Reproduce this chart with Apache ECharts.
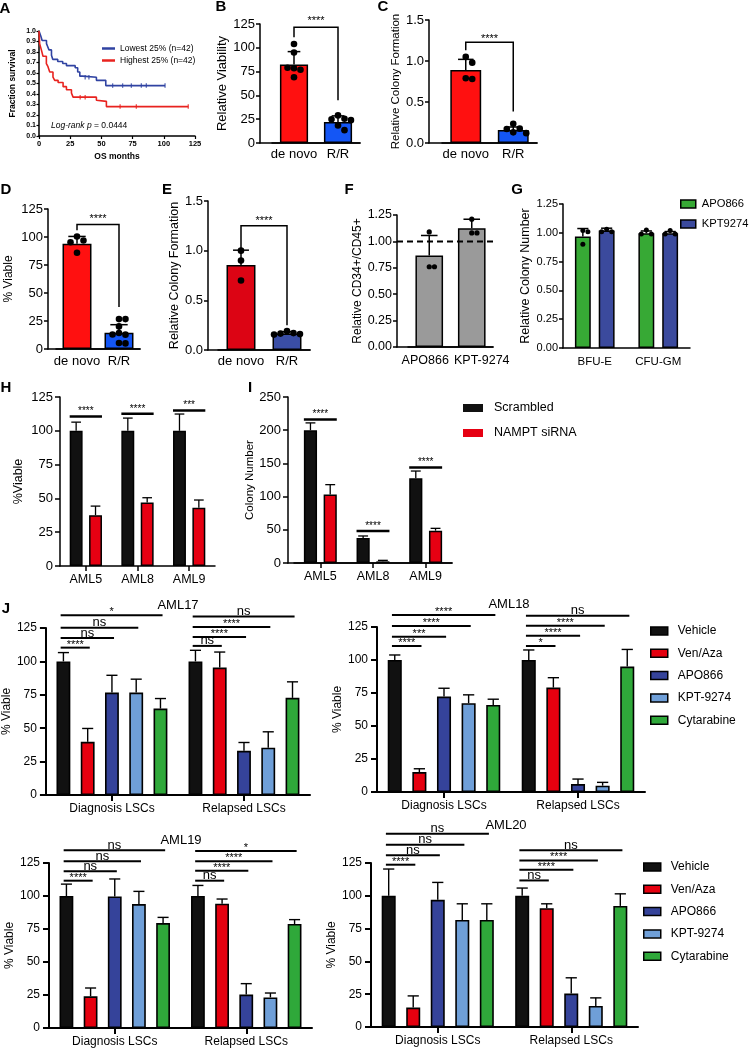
<!DOCTYPE html>
<html><head><meta charset="utf-8">
<script src="https://cdn.jsdelivr.net/npm/echarts@6/dist/echarts.min.js"></script>
<style>html,body{margin:0;padding:0;background:#fff}#c{width:749px;height:1050px}</style>
</head><body><div id="c"></div>
<script>
// ================= DATA =================
// A: Kaplan-Meier
const kmLowTime = [0, 1.5, 2.5, 6, 7, 8, 10, 11, 15, 19, 22, 29, 31, 32.7, 35, 46, 53.5, 101];
const kmLowSurv = [1, 0.95, 0.91, 0.88, 0.85, 0.82, 0.77, 0.73, 0.71, 0.69, 0.67, 0.65, 0.61, 0.57, 0.56, 0.53, 0.48, 0.48];
const kmHighTime = [0, 0.5, 1.9, 3.2, 5.9, 7.2, 8.6, 11.2, 12.6, 15.3, 19.3, 22, 26, 27.3, 46, 47.4, 54, 119.6];
const kmHighSurv = [1, 0.88, 0.82, 0.76, 0.69, 0.66, 0.61, 0.56, 0.53, 0.51, 0.47, 0.44, 0.41, 0.37, 0.34, 0.33, 0.28, 0.28];
const kmLowCensorT = [37, 40, 59, 67, 74, 82, 86, 101];
const kmLowCensorS = [0.56, 0.56, 0.48, 0.48, 0.48, 0.48, 0.48, 0.48];
const kmHighCensorT = [33, 37, 65, 78, 119.6];
const kmHighCensorS = [0.37, 0.37, 0.28, 0.28, 0.28];
const kmNames = ['Lowest 25% (n=42)', 'Highest 25% (n=42)'];

// B
const groupCats = ['de novo', 'R/R'];
const bMean = [82.5, 22];
const bSD = [13.5, 6.5];
const bDotsDeNovo = [104, 95, 78.5, 77, 79, 69];
const bDotsRR = [29, 25.5, 25, 24, 18.5, 13.5];
const bSigY = [121.5, 111, 45];
// C
const cMean = [0.89, 0.16];
const cSD = [0.13, 0.035];
const cDotsDeNovo = [1.05, 0.98, 0.79, 0.78];
const cDotsRR = [0.235, 0.175, 0.17, 0.13, 0.12];
const cSigY = [1.23, 1.13, 0.385];
// D
const dMean = [94, 14.5];
const dSD = [6.5, 7.2];
const dDotsDeNovo = [100.4, 96.9, 95.3, 86];
const dDotsRR = [26.7, 26.7, 20.2, 14.3, 12.8, 13, 5.3, 5];
const dSigY = [111.2, 106, 37.6];
// E
const eMean = [0.855, 0.165];
const eSD = [0.15, 0.02];
const eDotsDeNovo = [1.0, 0.9, 0.70];
const eDotsRR = [0.19, 0.17, 0.165, 0.16, 0.155];
const eSigY = [1.25, 0.97, 0.25];
const sigStars = '****';
// F
const fCats = ['APO866', 'KPT-9274'];
const fMean = [0.866, 1.125];
const fSD = [0.19, 0.085];
const fDotsApo = [1.09, 0.76, 0.76];
const fDotsKpt = [1.21, 1.08, 1.08];
const fRef = 1.0;
// G
const gCats = ['BFU-E', 'CFU-GM'];
const gSeries = ['APO866', 'KPT9274'];
const gApoMean = [0.967, 0.996];
const gApoSD = [0.07, 0.02];
const gKptMean = [1.02, 0.996];
const gKptSD = [0.02, 0.015];
const gApoDots = [[1.02, 1.01, 0.90], [1.025, 0.99, 0.99]];
const gKptDots = [[1.03, 1.01, 1.01], [1.02, 0.99, 0.99]];
// H & I
const amlCats = ['AML5', 'AML8', 'AML9'];
const siNames = ['Scrambled', 'NAMPT siRNA'];
const hScr = [100, 100, 100];
const hScrSD = [6.4, 9.4, 12.4];
const hSi = [37.6, 47, 43];
const hSiSD = [6.7, 3.5, 5.8];
const hSig = ['****', '****', '***'];
const hSigY = [110.6, 112.6, 115];
const iScr = [200, 37.6, 127.5];
const iScrSD = [11, 3.1, 11];
const iSi = [103, 2.5, 48.7];
const iSiSD = [15, 1.5, 3.5];
const iSig = ['****', '****', '****'];
const iSigY = [216, 48.2, 144];
// J
const jCats = ['Diagnosis LSCs', 'Relapsed LSCs'];
const jTreat = ['Vehicle', 'Ven/Aza', 'APO866', 'KPT-9274', 'Cytarabine'];
const jTitles = ['AML17', 'AML18', 'AML19', 'AML20'];
const aml17Mean = [[100, 39.8, 76.7, 76.7, 64.7], [100, 95.4, 33.1, 35.4, 72.7]];
const aml17Err = [[6.6, 10, 12.9, 10, 7.5], [8.3, 11.6, 6.2, 11.9, 12]];
const aml17Sig = [['****', 'ns', 'ns', '*'], ['ns', '****', '****', 'ns']];
const aml17SigY = [[110.3, 117.5, 125.2, 134.5], [111.6, 118.3, 125.7, 133.7]];
const aml18Mean = [[100, 15.1, 72.3, 67.3, 66], [100, 79.1, 6, 4.8, 95]];
const aml18Err = [[3.8, 2.5, 6.3, 6.3, 4.3], [7.6, 7.5, 3.8, 2.5, 13]];
const aml18Sig = [['****', '***', '****', '****'], ['*', '****', '****', 'ns']];
const aml18SigY = [[110.6, 117.6, 125.7, 134], [110.6, 118.4, 126, 133.5]];
const aml19Mean = [[100, 24, 99.7, 93.9, 79.5], [100, 94.2, 25.3, 23.2, 78.8]];
const aml19Err = [[9, 6.3, 13.2, 9.6, 4.3], [8, 3.5, 8.3, 3.3, 3.3]];
const aml19Sig = [['****', 'ns', 'ns', 'ns'], ['ns', '****', '****', '*']];
const aml19SigY = [[111.6, 118.7, 126.3, 134.6], [111.6, 119.2, 126.3, 134.1]];
const aml20Mean = [[100, 14.8, 96.9, 81.6, 81.6], [100, 90.6, 25.5, 16.1, 92.3]];
const aml20Err = [[20.4, 8.9, 13.3, 12.3, 12.3], [5.9, 3.3, 12, 6.1, 9.2]];
const aml20Sig = [['****', 'ns', 'ns', 'ns'], ['ns', '****', '****', 'ns']];
const aml20SigY = [[123.7, 130.9, 139, 147.2], [111.7, 119.9, 127, 134.7]];

// ================= STYLE =================
const FONT = '"Liberation Sans", Arial, Helvetica, sans-serif';
const KM_BLUE = '#3043a2', KM_RED = '#e8231f';
const RED = '#ff1010', BLUE = '#1456f5';
const E_RED = '#dc0414', E_BLUE = '#3a4ea6';
const GRAY = '#9a9a9a';
const G_GREEN = '#37a935', G_BLUE = '#3b4a9d';
const SI_COLORS = ['#111111', '#e60012'];
const J_COLORS = ['#111111', '#e5000f', '#35439a', '#6f9fd8', '#2fa83a'];

const grids = [], xAxes = [], yAxes = [], series = [], legends = [], graphics = [];

function txt(x, y, text, font, align, valign) {
  graphics.push({type: 'text', x: x, y: y, silent: true,
    style: {text: text, font: font, fill: '#000', textAlign: align || 'center', textVerticalAlign: valign || 'middle',
      align: align || 'center', verticalAlign: valign || 'middle'}});
}
function barOffset(band, n, i, bwFrac, gapFrac) {
  const bw = band * bwFrac, gap = bw * gapFrac;
  const total = n * bw + (n - 1) * gap;
  return -total / 2 + bw / 2 + i * (bw + gap);
}
function swarm(ys, d) {
  const out = [];
  ys.forEach(function (y, i) {
    const cands = [0];
    for (let k = 1; k <= 6; k++) { cands.push(k * d * 0.9, -k * d * 0.9); }
    for (const dx of cands) {
      if (out.every(function (o, j) { return Math.hypot(o - dx, ys[j] - y) >= d * 0.9; })) { out.push(dx); return; }
    }
    out.push(0);
  });
  return out;
}
function textEl(x, y, text, fs) {
  return {type: 'text', x: x, y: y, style: {text: text, fill: '#000', font: fs + 'px ' + FONT,
    textAlign: 'center', textVerticalAlign: 'middle', align: 'center', verticalAlign: 'middle'}};
}

function panel(o) {
  const lw = o.lw || 1.5;
  const line = {show: true, lineStyle: {color: '#000', width: lw}};
  const gi = grids.push({left: o.left, top: o.top, width: o.right - o.left, height: o.bottom - o.top}) - 1;
  const xi = xAxes.push({gridIndex: gi, type: 'category', data: o.cats, axisLine: line,
    axisTick: {show: !!o.xTicks, alignWithLabel: true, length: o.tickLen || 5, lineStyle: {color: '#000', width: lw}},
    axisLabel: Object.assign({color: '#000', fontSize: o.xFs, fontFamily: FONT, margin: o.xMargin, interval: 0}, o.xLabel || {}),
    splitLine: {show: false}}) - 1;
  const yi = yAxes.push({gridIndex: gi, type: 'value', min: o.ymin, max: o.ymax, interval: o.yint,
    offset: o.left - o.axisX, axisLine: line,
    axisTick: {show: true, length: o.tickLen || 4, lineStyle: {color: '#000', width: lw}},
    axisLabel: {color: '#000', fontSize: o.tickFs, fontFamily: FONT, margin: o.yMargin || 5,
      formatter: o.dec ? function (v) { return v.toFixed(o.dec); } : null},
    splitLine: {show: false}, name: o.yName, nameLocation: 'middle', nameGap: o.yNameGap,
    nameTextStyle: {fontSize: o.yNameSize, fontFamily: FONT, color: '#000'}}) - 1;
  if (o.left > o.axisX) {
    const fg = grids.push({left: o.axisX, top: o.top, width: o.right - o.axisX, height: o.bottom - o.top}) - 1;
    xAxes.push({gridIndex: fg, type: 'value', min: 0, max: 1, axisLine: line, axisTick: {show: false},
      axisLabel: {show: false}, splitLine: {show: false}});
    yAxes.push({gridIndex: fg, type: 'value', min: 0, max: 1, show: false});
  }
  return {gi: gi, xi: xi, yi: yi, off: o.left - o.axisX};
}
function bars(ax, name, vals, colors, bwFrac, gapFrac, bw) {
  series.push({type: 'bar', name: name, xAxisIndex: ax.xi, yAxisIndex: ax.yi,
    data: vals.map(function (v, i) { return {value: v, itemStyle: {color: Array.isArray(colors) ? colors[i] : colors}}; }),
    barWidth: (bwFrac * 100) + '%', barGap: (gapFrac * 100) + '%',
    itemStyle: {color: Array.isArray(colors) ? colors[0] : colors, borderColor: '#000', borderWidth: bw == null ? 1.5 : bw},
    z: 2, silent: true});
}
function errs(ax, means, sds, n, idx, bwFrac, gapFrac, capFrac, lw) {
  series.push({type: 'custom', xAxisIndex: ax.xi, yAxisIndex: ax.yi, z: 3, silent: true, clip: false,
    data: means.map(function (m, i) { return [i, m, sds[i]]; }),
    renderItem: function (p, api) {
      const c = api.value(0), m = api.value(1), e = api.value(2);
      const band = api.size([1, 0])[0];
      const x = api.coord([c, m])[0] + barOffset(band, n, idx, bwFrac, gapFrac);
      const y0 = api.coord([c, m])[1], y1 = api.coord([c, m + e])[1];
      const h = band * bwFrac * capFrac / 2;
      return {type: 'group', children: [
        {type: 'line', shape: {x1: x, y1: y0, x2: x, y2: y1}, style: {stroke: '#000', lineWidth: lw}},
        {type: 'line', shape: {x1: x - h, y1: y1, x2: x + h, y2: y1}, style: {stroke: '#000', lineWidth: lw}}]};
    }});
}
function dots(ax, cat, vals, n, idx, bwFrac, gapFrac, r) {
  series.push({type: 'custom', xAxisIndex: ax.xi, yAxisIndex: ax.yi, z: 4, silent: true, clip: false,
    data: vals.map(function (v) { return [cat, v]; }),
    renderItem: function (p, api) {
      const band = api.size([1, 0])[0];
      const cx0 = api.coord([cat, vals[0]])[0] + barOffset(band, n, idx, bwFrac, gapFrac);
      const ys = vals.map(function (v) { return api.coord([cat, v])[1]; });
      const xs = swarm(ys, 2 * r + 0.6);
      const i = p.dataIndex;
      return {type: 'circle', shape: {cx: cx0 + xs[i], cy: ys[i], r: r}, style: {fill: '#000'}};
    }});
}
function bracket(ax, label, ys, starsOff, fs) {
  series.push({type: 'custom', xAxisIndex: ax.xi, yAxisIndex: ax.yi, z: 5, silent: true, clip: false,
    data: [[0, 1, ys[0], ys[1], ys[2]]],
    renderItem: function (p, api) {
      const a = api.coord([api.value(0), api.value(2)]), b = api.coord([api.value(1), api.value(2)]);
      const l1 = api.coord([api.value(0), api.value(3)])[1], l2 = api.coord([api.value(1), api.value(4)])[1];
      return {type: 'group', children: [
        {type: 'polyline', shape: {points: [[a[0], l1], [a[0], a[1]], [b[0], b[1]], [b[0], l2]]},
          style: {stroke: '#000', lineWidth: 1.5, fill: null}},
        textEl((a[0] + b[0]) / 2, a[1] - starsOff, label, fs)]};
    }});
}
function groupSig(ax, labels, ys, n, bwFrac, gapFrac, lw, starsOff, fs) {
  series.push({type: 'custom', xAxisIndex: ax.xi, yAxisIndex: ax.yi, z: 5, silent: true, clip: false,
    data: ys.map(function (y, i) { return [i, y]; }),
    renderItem: function (p, api) {
      const c = api.value(0), y = api.value(1);
      const band = api.size([1, 0])[0], bw = band * bwFrac;
      const pt = api.coord([c, y]);
      const x1 = pt[0] + barOffset(band, n, 0, bwFrac, gapFrac) - bw / 2;
      const x2 = pt[0] + barOffset(band, n, n - 1, bwFrac, gapFrac) + bw / 2;
      return {type: 'group', children: [
        {type: 'line', shape: {x1: x1, y1: pt[1], x2: x2, y2: pt[1]}, style: {stroke: '#000', lineWidth: lw}},
        textEl((x1 + x2) / 2, pt[1] - starsOff, labels[p.dataIndex], fs)]};
    }});
}
function jSig(ax, labels, ys, bwFrac, gapFrac) {
  const data = [], labs = [];
  ys.forEach(function (row, c) { row.forEach(function (y, k) { data.push([c, k + 1, y]); labs.push(labels[c][k]); }); });
  series.push({type: 'custom', xAxisIndex: ax.xi, yAxisIndex: ax.yi, z: 5, silent: true, clip: false, data: data,
    renderItem: function (p, api) {
      const c = api.value(0), t = api.value(1), y = api.value(2);
      const band = api.size([1, 0])[0], bw = band * bwFrac;
      const pt = api.coord([c, y]);
      const x1 = pt[0] + barOffset(band, 5, 0, bwFrac, gapFrac) - 0.2 * bw;
      const x2 = pt[0] + barOffset(band, 5, t, bwFrac, gapFrac) + 0.15 * bw;
      const lab = labs[p.dataIndex];
      const isNs = lab === 'ns';
      return {type: 'group', children: [
        {type: 'line', shape: {x1: x1, y1: pt[1], x2: x2, y2: pt[1]}, style: {stroke: '#000', lineWidth: 2}},
        textEl((x1 + x2) / 2, pt[1] - (isNs ? 5 : 3), lab, isNs ? 13 : 11)]};
    }});
}

// ================= PANEL A =================
(function () {
  const gi = grids.push({left: 39, top: 31, width: 156, height: 105}) - 1;
  const line = {show: true, lineStyle: {color: '#000', width: 1.5}};
  const xi = xAxes.push({gridIndex: gi, type: 'value', min: 0, max: 125, interval: 25, axisLine: line,
    axisTick: {show: true, length: 3, lineStyle: {color: '#000', width: 1.2}},
    axisLabel: {color: '#000', fontSize: 7.5, fontWeight: 'bold', fontFamily: FONT, margin: 4},
    splitLine: {show: false}, name: 'OS months', nameLocation: 'middle', nameGap: 16,
    nameTextStyle: {fontSize: 8.5, fontWeight: 'bold', fontFamily: FONT, color: '#000'}}) - 1;
  const yi = yAxes.push({gridIndex: gi, type: 'value', min: 0, max: 1, interval: 0.1, axisLine: line,
    axisTick: {show: true, length: 2.5, lineStyle: {color: '#000', width: 1.2}},
    axisLabel: {color: '#000', fontSize: 7, fontWeight: 'bold', fontFamily: FONT, margin: 3,
      formatter: function (v) { return v.toFixed(1); }},
    splitLine: {show: false}, name: 'Fraction survival', nameLocation: 'middle', nameGap: 22,
    nameTextStyle: {fontSize: 8.5, fontWeight: 'bold', fontFamily: FONT, color: '#000'}}) - 1;
  [[kmLowTime, kmLowSurv, kmLowCensorT, kmLowCensorS, KM_BLUE, kmNames[0]],
   [kmHighTime, kmHighSurv, kmHighCensorT, kmHighCensorS, KM_RED, kmNames[1]]].forEach(function (s) {
    series.push({type: 'line', name: s[5], xAxisIndex: xi, yAxisIndex: yi, step: 'end', showSymbol: false,
      data: s[0].map(function (t, i) { return [t, s[1][i]]; }),
      lineStyle: {color: s[4], width: 1.6}, itemStyle: {color: s[4]}, silent: true, z: 3});
    series.push({type: 'scatter', xAxisIndex: xi, yAxisIndex: yi, symbol: 'rect', symbolSize: [1.3, 4.5],
      data: s[2].map(function (t, i) { return [t, s[3][i]]; }), itemStyle: {color: s[4]}, silent: true, z: 4});
  });
  legends.push({left: 102, top: 44, orient: 'vertical', itemWidth: 13, itemHeight: 2.5, itemGap: 3, padding: 0,
    selectedMode: false, textStyle: {fontSize: 8.5, color: '#000', fontFamily: FONT, lineHeight: 9},
    data: [{name: kmNames[0], icon: 'rect', itemStyle: {color: KM_BLUE}},
           {name: kmNames[1], icon: 'rect', itemStyle: {color: KM_RED}}]});
  graphics.push({type: 'text', x: 51, y: 126, silent: true,
    style: {text: '{i|Log-rank p} = 0.0444', font: '8.5px ' + FONT, fill: '#000',
      textAlign: 'left', textVerticalAlign: 'middle', align: 'left', verticalAlign: 'middle',
      rich: {i: {fontStyle: 'italic', fontSize: 8.5, fontFamily: FONT}}}});
})();

// ================= PANELS B-E =================
function twoBar(cfg, mean, sd, d0, d1, sigY, colors, bw, cap, starsOff) {
  const ax = panel(cfg);
  bars(ax, null, mean, colors, bw, 0);
  errs(ax, mean, sd, 1, 0, bw, 0, cap, 1.5);
  dots(ax, 0, d0, 1, 0, bw, 0, 3.3);
  dots(ax, 1, d1, 1, 0, bw, 0, 3.3);
  bracket(ax, sigStars, sigY, starsOff, 11);
}
twoBar({left: 272, right: 360, top: 24, bottom: 143, axisX: 260, cats: groupCats, ymin: 0, ymax: 125, yint: 25,
  tickFs: 13, xFs: 13, xMargin: 5, yMargin: 5, yName: 'Relative Viability', yNameGap: 22, yNameSize: 13},
  bMean, bSD, bDotsDeNovo, bDotsRR, bSigY, [RED, BLUE], 0.64, 0.45, 6);
twoBar({left: 442, right: 537, top: 20, bottom: 143, axisX: 429, cats: groupCats, ymin: 0, ymax: 1.5, yint: 0.5, dec: 1,
  tickFs: 13, xFs: 13, xMargin: 5, yMargin: 5, yName: 'Relative Colony Formation', yNameGap: 20, yNameSize: 11.5},
  cMean, cSD, cDotsDeNovo, cDotsRR, cSigY, [RED, BLUE], 0.65, 0.5, 3);
twoBar({left: 56, right: 140, top: 209, bottom: 349, axisX: 48, cats: groupCats, ymin: 0, ymax: 125, yint: 25,
  tickFs: 13, xFs: 13, xMargin: 6, yMargin: 5, yName: '% Viable', yNameGap: 33, yNameSize: 12},
  dMean, dSD, dDotsDeNovo, dDotsRR, dSigY, [RED, BLUE], 0.69, 0.6, 5);
twoBar({left: 218, right: 310, top: 201, bottom: 350, axisX: 208, cats: groupCats, ymin: 0, ymax: 1.5, yint: 0.5, dec: 1,
  tickFs: 13, xFs: 13, xMargin: 5, yMargin: 5, yName: 'Relative Colony Formation', yNameGap: 21, yNameSize: 12.5},
  eMean, eSD, eDotsDeNovo, eDotsRR, eSigY, [E_RED, E_BLUE], 0.63, 0.55, 4.5);

// ================= PANEL F =================
(function () {
  const ax = panel({left: 408, right: 493, top: 215, bottom: 347, axisX: 397, cats: fCats, ymin: 0, ymax: 1.25, yint: 0.25, dec: 2,
    tickFs: 12.5, xFs: 12.5, xMargin: 7, yMargin: 5, yName: 'Relative CD34+/CD45+', yNameGap: 33, yNameSize: 12,
    xLabel: {formatter: function (v, i) { return i === 0 ? '{l|' + v + '}' : '{r|' + v + '}'; },
      rich: {l: {padding: [0, 8, 0, 0], fontSize: 12.5, fontFamily: FONT, color: '#000'},
             r: {padding: [0, 0, 0, 20], fontSize: 12.5, fontFamily: FONT, color: '#000'}}}});
  bars(ax, null, fMean, GRAY, 0.65, 0);
  errs(ax, fMean, fSD, 1, 0, 0.65, 0, 0.6, 1.5);
  dots(ax, 0, fDotsApo, 1, 0, 0.65, 0, 2.6);
  dots(ax, 1, fDotsKpt, 1, 0, 0.65, 0, 2.6);
  series.push({type: 'custom', xAxisIndex: ax.xi, yAxisIndex: ax.yi, z: 6, silent: true, clip: false, data: [[0, fRef]],
    renderItem: function (p, api) {
      const y = api.coord([0, api.value(1)])[1], cs = p.coordSys;
      return {type: 'line', shape: {x1: cs.x - ax.off, y1: y, x2: cs.x + cs.width + 2, y2: y},
        style: {stroke: '#000', lineWidth: 2, lineDash: [6, 4]}};
    }});
})();

// ================= PANEL G =================
(function () {
  const ax = panel({left: 563, right: 690, top: 204, bottom: 348, axisX: 563, cats: gCats, ymin: 0, ymax: 1.25, yint: 0.25, dec: 2,
    tickFs: 11, xFs: 11.5, xMargin: 8, yMargin: 5, yName: 'Relative Colony Number', yNameGap: 31, yNameSize: 12.5});
  const bw = 0.25, gap = 0.5;
  bars(ax, gSeries[0], gApoMean, G_GREEN, bw, gap);
  bars(ax, gSeries[1], gKptMean, G_BLUE, bw, gap);
  errs(ax, gApoMean, gApoSD, 2, 0, bw, gap, 0.7, 1.5);
  errs(ax, gKptMean, gKptSD, 2, 1, bw, gap, 0.7, 1.5);
  gApoDots.forEach(function (v, c) { dots(ax, c, v, 2, 0, bw, gap, 2.5); });
  gKptDots.forEach(function (v, c) { dots(ax, c, v, 2, 1, bw, gap, 2.5); });
  legends.push({left: 680, top: 197, orient: 'vertical', itemWidth: 15, itemHeight: 8, itemGap: 6, padding: 0,
    selectedMode: false, textStyle: {fontSize: 11.2, color: '#000', fontFamily: FONT, lineHeight: 14, padding: [0, 0, 0, 1]},
    data: [{name: gSeries[0], icon: 'rect', itemStyle: {color: G_GREEN, borderColor: '#000', borderWidth: 1.5}},
           {name: gSeries[1], icon: 'rect', itemStyle: {color: G_BLUE, borderColor: '#000', borderWidth: 1.5}}]});
})();

// ================= PANELS H & I =================
function siPanel(cfg, scr, scrSD, si, siSD, sig, sigY) {
  const ax = panel(cfg);
  const bw = 0.25, gap = 0.5;
  bars(ax, siNames[0], scr, SI_COLORS[0], bw, gap);
  bars(ax, siNames[1], si, SI_COLORS[1], bw, gap);
  errs(ax, scr, scrSD, 2, 0, bw, gap, 0.75, 1.3);
  errs(ax, si, siSD, 2, 1, bw, gap, 0.75, 1.3);
  groupSig(ax, sig, sigY, 2, bw, gap, 2.5, 5, 10);
}
siPanel({left: 60, right: 215, top: 397, bottom: 566, axisX: 60, cats: amlCats, ymin: 0, ymax: 125, yint: 25,
  tickFs: 13, xFs: 12.5, xMargin: 7, yMargin: 7, xTicks: true, tickLen: 5, yName: '%Viable', yNameGap: 35, yNameSize: 12.5},
  hScr, hScrSD, hSi, hSiSD, hSig, hSigY);
siPanel({left: 294, right: 452, top: 397, bottom: 563, axisX: 288, cats: amlCats, ymin: 0, ymax: 250, yint: 50,
  tickFs: 13, xFs: 12.5, xMargin: 7, yMargin: 7, xTicks: true, tickLen: 5, yName: 'Colony Number', yNameGap: 27, yNameSize: 11.5},
  iScr, iScrSD, iSi, iSiSD, iSig, iSigY);
legends.push({left: 463, top: 401, orient: 'vertical', itemWidth: 20, itemHeight: 8, itemGap: 11, padding: 0,
  selectedMode: false, textStyle: {fontSize: 12.5, color: '#000', fontFamily: FONT, lineHeight: 14, padding: [0, 0, 0, 6]},
  data: [{name: siNames[0], icon: 'rect', itemStyle: {color: SI_COLORS[0], borderWidth: 0}},
         {name: siNames[1], icon: 'rect', itemStyle: {color: SI_COLORS[1], borderWidth: 0}}]});

// ================= PANEL J =================
function jPanel(cfg, mean, err, sig, sigY) {
  const ax = panel(cfg);
  const bw = 0.105, gap = 0.75;
  jTreat.forEach(function (t, k) {
    const vals = mean.map(function (row) { return row[k]; });
    const e = err.map(function (row) { return row[k]; });
    bars(ax, t, vals, J_COLORS[k], bw, gap, 1.6);
    errs(ax, vals, e, 5, k, bw, gap, 0.8, 1.4);
  });
  jSig(ax, sig, sigY, bw, gap);
}
const jBase = {cats: jCats, ymin: 0, ymax: 125, yint: 25, tickFs: 12, xFs: 12, xMargin: 8, yMargin: 9,
  xTicks: true, tickLen: 6, lw: 2, yName: '% Viable', yNameSize: 12};
jPanel(Object.assign({}, jBase, {left: 45, right: 310, top: 628, bottom: 795, axisX: 45, yNameGap: 29}), aml17Mean, aml17Err, aml17Sig, aml17SigY);
jPanel(Object.assign({}, jBase, {left: 377, right: 645, top: 627, bottom: 792, axisX: 377, yNameGap: 32}), aml18Mean, aml18Err, aml18Sig, aml18SigY);
jPanel(Object.assign({}, jBase, {left: 49, right: 312, top: 863, bottom: 1028, axisX: 49, yNameGap: 33}), aml19Mean, aml19Err, aml19Sig, aml19SigY);
jPanel(Object.assign({}, jBase, {left: 371, right: 638, top: 863, bottom: 1027, axisX: 371, yNameGap: 28}), aml20Mean, aml20Err, aml20Sig, aml20SigY);
[[650, 624], [643, 860]].forEach(function (pos) {
  legends.push({left: pos[0], top: pos[1], orient: 'vertical', itemWidth: 17, itemHeight: 8, itemGap: 8.3, padding: 0,
    selectedMode: false, textStyle: {fontSize: 12, color: '#000', fontFamily: FONT, lineHeight: 14, padding: [0, 0, 0, 5]},
    data: jTreat.map(function (t, k) { return {name: t, icon: 'rect', itemStyle: {color: J_COLORS[k], borderColor: '#000', borderWidth: 1.5}}; })});
});
txt(178, 605, jTitles[0], '13px ' + FONT);
txt(509, 604, jTitles[1], '13px ' + FONT);
txt(181, 840, jTitles[2], '13px ' + FONT);
txt(506, 825, jTitles[3], '13px ' + FONT);

// ================= PANEL LETTERS =================
[['A', 5, 9], ['B', 221, 7], ['C', 383, 7], ['D', 6, 190], ['E', 167, 190], ['F', 349, 190], ['G', 517, 190],
 ['H', 6, 388], ['I', 250, 388], ['J', 6, 609]].forEach(function (l) { txt(l[1], l[2], l[0], 'bold 15px ' + FONT); });

const chart = echarts.init(document.getElementById('c'), null, {renderer: 'canvas'});
chart.setOption({
  animation: false, backgroundColor: '#fff',
  textStyle: {fontFamily: FONT, color: '#000'},
  grid: grids, xAxis: xAxes, yAxis: yAxes, series: series, legend: legends, graphic: graphics
});
</script></body></html>
